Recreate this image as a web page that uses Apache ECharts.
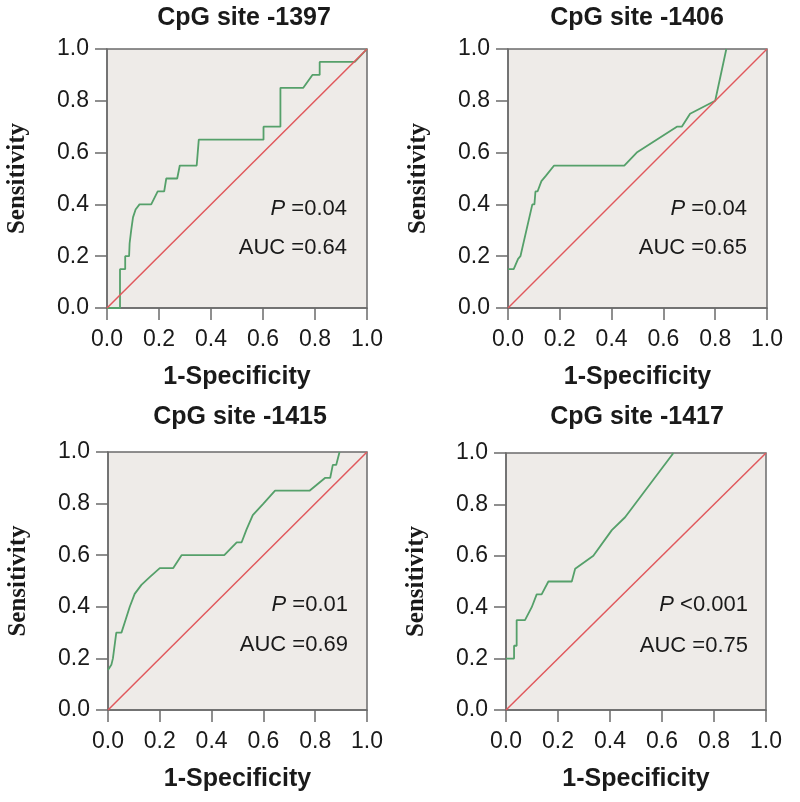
<!DOCTYPE html>
<html>
<head>
<meta charset="utf-8">
<script src="https://cdn.jsdelivr.net/npm/echarts@6/dist/echarts.min.js"></script>
<style>html,body{margin:0;padding:0;background:#fff;}#c{width:800px;height:802px;}</style>
</head>
<body>
<div id="c"></div>
<script>
// ---- data ----
var titles = ['CpG site -1397', 'CpG site -1406', 'CpG site -1415', 'CpG site -1417'];
var pTexts = ['=0.04', '=0.04', '=0.01', '<0.001'];
var aucTexts = ['AUC =0.64', 'AUC =0.65', 'AUC =0.69', 'AUC =0.75'];
var tickLabels = ['0.0', '0.2', '0.4', '0.6', '0.8', '1.0'];

var fpr1397 = [0, 0.05, 0.05, 0.07, 0.07, 0.085, 0.087, 0.093, 0.10, 0.11, 0.125, 0.17, 0.195, 0.22, 0.228, 0.27, 0.28, 0.345, 0.353, 0.602, 0.602, 0.667, 0.667, 0.755, 0.79, 0.818, 0.818, 0.953, 1.0];
var tpr1397 = [0, 0, 0.15, 0.15, 0.20, 0.20, 0.25, 0.30, 0.35, 0.38, 0.40, 0.40, 0.45, 0.45, 0.50, 0.50, 0.55, 0.55, 0.65, 0.65, 0.70, 0.70, 0.85, 0.85, 0.90, 0.90, 0.95, 0.95, 1.0];

var fpr1406 = [0, 0.022, 0.039, 0.048, 0.055, 0.094, 0.102, 0.106, 0.114, 0.129, 0.146, 0.178, 0.449, 0.497, 0.652, 0.671, 0.703, 0.80, 0.843];
var tpr1406 = [0.15, 0.15, 0.19, 0.20, 0.20, 0.40, 0.40, 0.45, 0.45, 0.49, 0.51, 0.55, 0.55, 0.60, 0.70, 0.70, 0.75, 0.80, 1.0];

var fpr1415 = [0, 0.013, 0.019, 0.032, 0.052, 0.068, 0.084, 0.103, 0.129, 0.161, 0.20, 0.252, 0.284, 0.449, 0.497, 0.516, 0.535, 0.559, 0.60, 0.645, 0.778, 0.839, 0.858, 0.868, 0.881, 0.894];
var tpr1415 = [0.155, 0.175, 0.20, 0.30, 0.30, 0.35, 0.40, 0.45, 0.485, 0.515, 0.55, 0.55, 0.60, 0.60, 0.65, 0.65, 0.70, 0.755, 0.80, 0.85, 0.85, 0.90, 0.90, 0.95, 0.95, 1.0];

var fpr1417 = [0, 0.031, 0.031, 0.041, 0.041, 0.073, 0.099, 0.105, 0.118, 0.137, 0.163, 0.253, 0.266, 0.336, 0.407, 0.458, 0.644];
var tpr1417 = [0.20, 0.20, 0.25, 0.25, 0.35, 0.35, 0.40, 0.40, 0.45, 0.45, 0.50, 0.50, 0.55, 0.60, 0.70, 0.75, 1.0];

var diagX = [0, 1];
var diagY = [0, 1];

var fprs = [fpr1397, fpr1406, fpr1415, fpr1417];
var tprs = [tpr1397, tpr1406, tpr1415, tpr1417];

// ---- layout ----
var grids = [
  {left: 107, top: 49, width: 260, height: 259},
  {left: 508, top: 49, width: 259, height: 259},
  {left: 108, top: 452, width: 259, height: 258},
  {left: 506, top: 453, width: 260, height: 257}
];
var titlePos = [[244, 18], [637, 18], [240, 417], [637, 417]];
var annRight = [347, 747, 348, 748];
var annPY = [209, 209, 605, 605];
var annAY = [248, 248, 645, 646];

var txt = '#1a1a1a';
var axisCol = '#6b6b6b';
var pair = function (xs, ys) { return xs.map(function (x, i) { return [x, ys[i]]; }); };

var option = {
  backgroundColor: '#ffffff',
  animation: false,
  grid: grids.map(function (g) {
    return {left: g.left, top: g.top, width: g.width, height: g.height, show: true,
      backgroundColor: '#eeebe8', borderColor: axisCol, borderWidth: 1.5, containLabel: false};
  }),
  xAxis: grids.map(function (g, i) {
    return {
      type: 'value', gridIndex: i, min: 0, max: 1, interval: 0.2,
      name: '1-Specificity', nameLocation: 'middle', nameGap: 57,
      nameTextStyle: {fontFamily: 'Liberation Sans', fontWeight: 'bold', fontSize: 25, color: txt},
      axisLine: {show: true, lineStyle: {color: axisCol, width: 1.5}},
      axisTick: {show: true, inside: false, length: 12, lineStyle: {color: axisCol, width: 1.5}},
      axisLabel: {margin: 20, fontFamily: 'Liberation Sans', fontSize: 23, color: txt,
        formatter: function (v) { return tickLabels[Math.round(v * 5)]; }},
      splitLine: {show: false}
    };
  }),
  yAxis: grids.map(function (g, i) {
    return {
      type: 'value', gridIndex: i, min: 0, max: 1, interval: 0.2,
      name: 'Sensitivity', nameLocation: 'middle', nameGap: 77, nameRotate: 90,
      nameTextStyle: {fontFamily: 'Liberation Serif', fontWeight: 'bold', fontSize: 25, color: txt},
      axisLine: {show: true, lineStyle: {color: axisCol, width: 1.5}},
      axisTick: {show: true, inside: false, length: 12, lineStyle: {color: axisCol, width: 1.5}},
      axisLabel: {margin: 18, fontFamily: 'Liberation Sans', fontSize: 23, color: txt,
        formatter: function (v) { return tickLabels[Math.round(v * 5)]; }},
      splitLine: {show: false}
    };
  }),
  series: [],
  graphic: []
};

for (var i = 0; i < 4; i++) {
  option.series.push({
    type: 'line', xAxisIndex: i, yAxisIndex: i, data: pair(fprs[i], tprs[i]),
    showSymbol: false, symbol: 'none', lineStyle: {color: '#55a06a', width: 1.8}, z: 3
  });
  option.series.push({
    type: 'line', xAxisIndex: i, yAxisIndex: i, data: pair(diagX, diagY),
    showSymbol: false, symbol: 'none', lineStyle: {color: '#e0585c', width: 1.5}, z: 4
  });
  option.graphic.push({
    type: 'text', x: titlePos[i][0], y: titlePos[i][1],
    style: {text: titles[i], fill: txt, font: 'bold 25px "Liberation Sans"', textAlign: 'center', textVerticalAlign: 'middle'}
  });
  option.graphic.push({
    type: 'text', x: annRight[i], y: annPY[i],
    style: {text: '{i|P} {n|' + pTexts[i] + '}', fill: txt, font: '22px "Liberation Sans"', textAlign: 'right', textVerticalAlign: 'middle',
      rich: {i: {fontStyle: 'italic', fontSize: 22, fontFamily: 'Liberation Sans', fill: txt},
             n: {fontSize: 22, fontFamily: 'Liberation Sans', fill: txt}}}
  });
  option.graphic.push({
    type: 'text', x: annRight[i], y: annAY[i],
    style: {text: aucTexts[i], fill: txt, font: '22px "Liberation Sans"', textAlign: 'right', textVerticalAlign: 'middle'}
  });
}

var chart = echarts.init(document.getElementById('c'), null, {renderer: 'canvas'});
chart.setOption(option);
</script>
</body>
</html>
